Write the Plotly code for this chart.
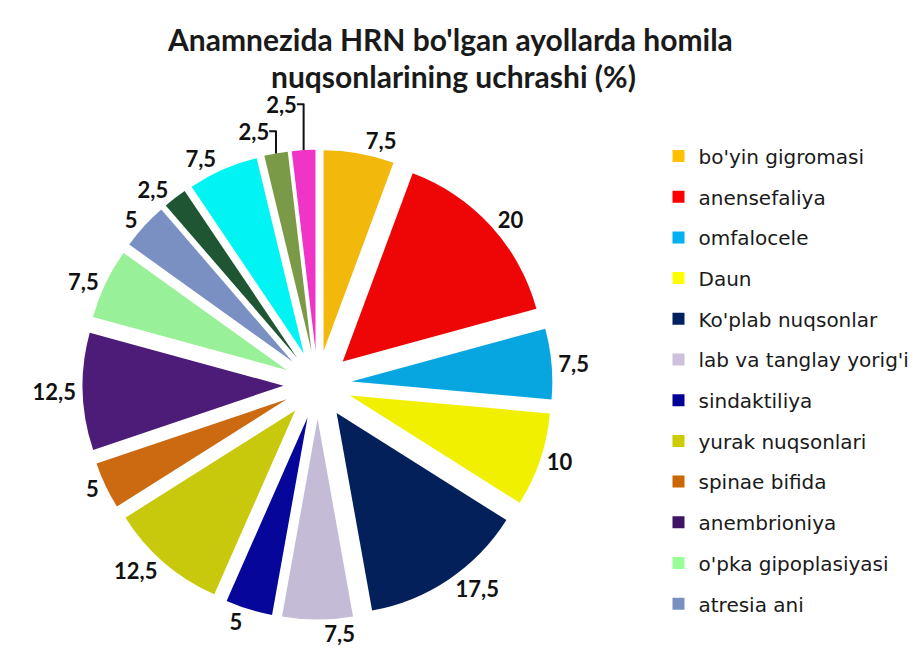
import plotly.graph_objects as go

title_line1 = "Anamnezida HRN bo'lgan ayollarda homila"
title_line2 = "nuqsonlarining uchrashi (%)"

# slices clockwise from 12 o'clock
labels = [
    "bo'yin gigromasi", "anensefaliya", "omfalocele", "Daun",
    "Ko'plab nuqsonlar", "lab va tanglay yorig'i", "sindaktiliya",
    "yurak nuqsonlari", "spinae bifida", "anembrioniya",
    "o'pka gipoplasiyasi", "atresia ani",
    "boshqa 1", "boshqa 2", "boshqa 3", "boshqa 4",
]
values = [7.5, 20, 7.5, 10, 17.5, 7.5, 5, 12.5, 5, 12.5, 7.5, 5, 2.5, 7.5, 2.5, 2.5]
value_text = [f"{v:g}".replace(".", ",") for v in values]
slice_colors = [
    "#F2B80C", "#EE0606", "#08A6E0", "#F0F000",
    "#03205A", "#C4BCD6", "#06069A",
    "#C8C80C", "#CC6A12", "#4C1C78",
    "#98F098", "#7A90C2",
    "#1F5532", "#00F4F4", "#7A9A48", "#F034C8",
]
legend_colors = [
    "#FFC000", "#FF0000", "#00B0F0", "#FFFF00",
    "#002060", "#CCC0DA", "#000099",
    "#CCCC00", "#CC6600", "#3F1364",
    "#99FF99", "#7890C0",
]
n_legend = 12

fig = go.Figure()

fig.add_trace(go.Pie(
    labels=labels,
    values=values,
    text=value_text,
    texttemplate="%{text}",
    textinfo="text",
    textposition="outside",
    textfont=dict(family="Lato", size=22, color="#111111", weight="bold"),
    marker=dict(colors=slice_colors, line=dict(width=0)),
    sort=False,
    direction="clockwise",
    rotation=0,
    pull=0.17,
    showlegend=False,
    domain=dict(x=[0.07, 0.60], y=[0.072, 0.785]),
    hovertemplate="%{label}: %{text}<extra></extra>",
))

for i in range(n_legend):
    fig.add_trace(go.Scatter(
        x=[None], y=[None], mode="markers",
        name=labels[i],
        legendgroup=f"g{i}",
        marker=dict(symbol="square", size=16, color=legend_colors[i]),
        showlegend=True,
    ))

title_font = dict(family="Lato", size=30, color="#1A1A1A", weight="bold")
fig.update_layout(
    width=924, height=659,
    margin=dict(l=0, r=0, t=0, b=0, autoexpand=False),
    paper_bgcolor="white",
    plot_bgcolor="white",
    xaxis=dict(visible=False),
    yaxis=dict(visible=False),
    annotations=[
        dict(text=title_line1, x=0.478, y=1 - 31 / 659, xref="paper", yref="paper",
             xanchor="center", yanchor="middle", showarrow=False, font=title_font),
        dict(text=title_line2, x=0.482, y=1 - 68 / 659, xref="paper", yref="paper",
             xanchor="center", yanchor="middle", showarrow=False, font=title_font),
    ],
    legend=dict(
        x=0.704, xanchor="left",
        y=0.805, yanchor="top",
        font=dict(family="DejaVu Sans", size=20, color="#1A1A1A"),
        traceorder="grouped",
        tracegroupgap=11.7,
        itemsizing="constant",
        bgcolor="rgba(0,0,0,0)",
    ),
)

fig.write_html("out.html")
